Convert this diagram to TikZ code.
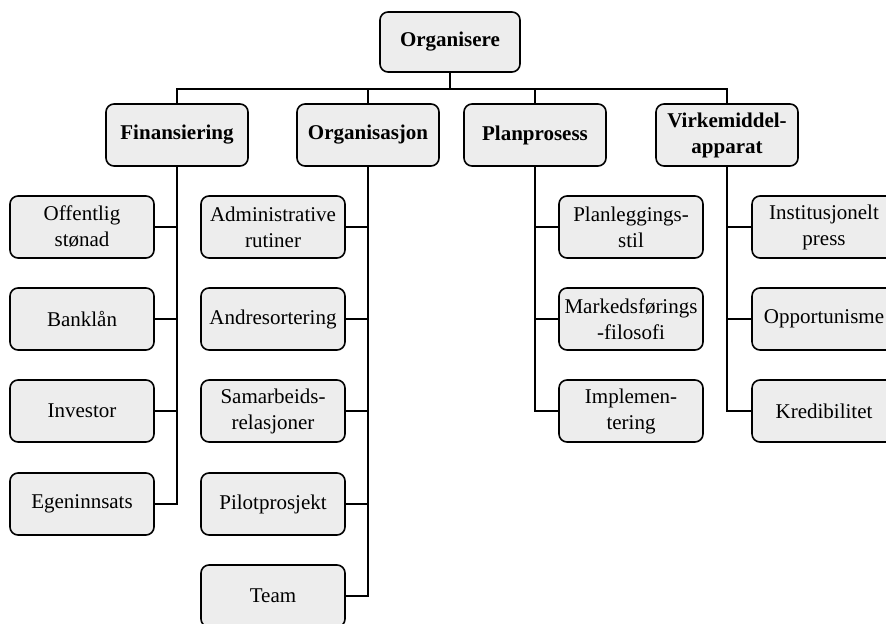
\documentclass[tikz,border=0pt]{standalone}
\usepackage{fontspec}
\setmainfont{Liberation Serif}

\begin{document}
\begin{tikzpicture}[x=0.5pt, y=-0.5pt,
    box/.style={draw, line width=0.8pt, rounded corners=4pt, fill=black!7,
      align=center, inner sep=2pt, minimum width=72pt, minimum height=31pt,
      font=\fontsize{10.5}{13}\selectfont},
    head/.style={box, minimum width=71pt, font=\fontsize{10.5}{13}\selectfont\bfseries},
    link/.style={line width=1pt}]

  \useasboundingbox (0,0) rectangle (886,624);
  \clip (0,0) rectangle (886,624);

  % Top node
  \node[head, minimum width=70pt, minimum height=30pt] (org) at (450,42) {Organisere};

  % Second level
  \node[head] (fin) at (177,135) {Finansiering};
  \node[head] (orgsj) at (368,135) {Organisasjon};
  \node[head] (plan) at (535,135) {Planprosess};
  \node[head] (virk) at (727,135) {Virkemiddel-\\apparat};

  % Finansiering
  \node[box] (f1) at (82,227) {Offentlig\\stønad};
  \node[box] (f2) at (82,319) {Banklån};
  \node[box] (f3) at (82,411) {Investor};
  \node[box] (f4) at (82,504) {Egeninnsats};

  % Organisasjon
  \node[box] (o1) at (273,227) {Administrative\\rutiner};
  \node[box] (o2) at (273,319) {Andresortering};
  \node[box] (o3) at (273,411) {Samarbeids-\\relasjoner};
  \node[box] (o4) at (273,504) {Pilotprosjekt};
  \node[box] (o5) at (273,596) {Team};

  % Planprosess
  \node[box] (p1) at (631,227) {Planleggings-\\stil};
  \node[box] (p2) at (631,319) {Markedsførings\\-filosofi};
  \node[box] (p3) at (631,411) {Implemen-\\tering};

  % Virkemiddelapparat
  \node[box] (v1) at (824,227) {Institusjonelt\\press};
  \node[box] (v2) at (824,319) {Opportunisme};
  \node[box] (v3) at (824,411) {Kredibilitet};

  % Bus under the top node
  \coordinate (bus) at (450,89);
  \draw[link] (org.south) -- (bus);
  \draw[link] (fin.north) -- (fin.north |- bus) -- (virk.north |- bus) -- (virk.north);
  \draw[link] (orgsj.north) -- (orgsj.north |- bus);
  \draw[link] (plan.north) -- (plan.north |- bus);

  % Branches
  \foreach \c in {f1,f2,f3,f4} \draw[link] (fin.south) |- (\c.east);
  \foreach \c in {o1,o2,o3,o4,o5} \draw[link] (orgsj.south) |- (\c.east);
  \foreach \c in {p1,p2,p3} \draw[link] (plan.south) |- (\c.west);
  \foreach \c in {v1,v2,v3} \draw[link] (virk.south) |- (\c.west);

\end{tikzpicture}
\end{document}
